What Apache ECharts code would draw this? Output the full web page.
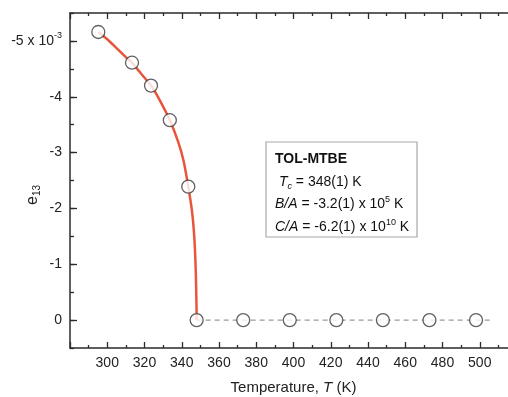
<!DOCTYPE html>
<html>
<head>
<meta charset="utf-8">
<script src="https://cdn.jsdelivr.net/npm/echarts@6/dist/echarts.min.js"></script>
<style>
  html, body { margin: 0; padding: 0; background: #fff; overflow: hidden; }
  #main { width: 508px; height: 397px; }
</style>
</head>
<body>
<div id="main"></div>
<script>
// measured points (T in K, e13 in units of 1e-3)
const measT = [295.2, 313.3, 323.5, 333.6, 343.5, 348, 373, 398, 423, 448, 473, 498];
const measE = [-5.16, -4.61, -4.2, -3.58, -2.39, 0, 0, 0, 0, 0, 0, 0];

// fitted curve (red)
const fitT = [295.2, 300, 305, 310, 313.3, 318, 323.5, 328, 333.6, 338, 341, 343.5, 345.5, 346.8, 347.5, 347.9, 348];
const fitE = [-5.16, -5.03, -4.87, -4.71, -4.61, -4.42, -4.2, -3.95, -3.58, -3.2, -2.85, -2.39, -1.95, -1.45, -0.9, -0.3, 0];

// dashed zero line above Tc
const zeroT = [348, 507];
const zeroE = [0, 0];

const yMajor = [-5, -4, -3, -2, -1, 0];

const font = 'Liberation Sans, Arial, sans-serif';
const axisColor = '#2b2b2b';

const myChart = echarts.init(document.getElementById('main'));

const zip = (a, b) => a.map((v, i) => [v, b[i]]);

const xCommon = {
    type: 'value',
    min: 280,
    max: 520,
    interval: 20,
    axisLine: { show: true, onZero: false, lineStyle: { color: axisColor, width: 1.5 } },
    axisTick: { show: true, inside: true, length: 6, lineStyle: { color: axisColor, width: 1.3 } },
    minorTick: { show: true, splitNumber: 2, length: 3, lineStyle: { color: axisColor, width: 1.3 } },
    splitLine: { show: false }
};

const option = {
    animation: false,
    // plot area runs past the right edge of the window, as in the original
    grid: { left: 70, top: 13, width: 447, height: 335, outerBoundsMode: 'none', containLabel: false },
    xAxis: [
        Object.assign({}, xCommon, {
            position: 'bottom',
            name: 'Temperature, {i|T} (K)',
            nameLocation: 'middle',
            nameGap: 32,
            nameTextStyle: {
                fontFamily: font, fontSize: 15, color: '#222',
                rich: { i: { fontFamily: font, fontSize: 15, fontStyle: 'italic', color: '#222' } }
            },
            axisLabel: {
                fontFamily: font, fontSize: 14, color: '#222', margin: 8,
                formatter: v => (v < 300 || v > 500) ? '' : String(v)
            }
        }),
        Object.assign({}, xCommon, {
            position: 'top',
            axisLabel: { show: false }
        })
    ],
    yAxis: [
        {
            type: 'value',
            inverse: true,
            min: -5.5,
            max: 0.5,
            position: 'left',
            axisLine: { show: true, onZero: false, lineStyle: { color: axisColor, width: 1.5 } },
            axisTick: { show: true, inside: true, length: 7, customValues: yMajor, lineStyle: { color: axisColor, width: 1.3 } },
            axisLabel: {
                customValues: yMajor,
                fontFamily: font, fontSize: 14, color: '#222', margin: 8,
                formatter: v => v === -5 ? '{n|-5 x 10}{s|-3}' : String(v),
                rich: {
                    n: { fontFamily: font, fontSize: 14, color: '#222' },
                    s: { fontFamily: font, fontSize: 9, color: '#222', verticalAlign: 'top', padding: [0, 0, 10, 0] }
                }
            },
            splitLine: { show: false }
        },
        {
            type: 'value',
            inverse: true,
            min: -5.5,
            max: 0.5,
            interval: 0.5,
            position: 'left',
            axisLine: { show: false },
            axisTick: { show: true, inside: true, length: 4, lineStyle: { color: axisColor, width: 1.3 } },
            axisLabel: { show: false },
            splitLine: { show: false }
        }
    ],
    graphic: [
        {
            type: 'text',
            x: 33, y: 195,
            rotation: Math.PI / 2,
            style: {
                text: '{e|e}{s|13}',
                align: 'center',
                verticalAlign: 'middle',
                rich: {
                    e: { fontFamily: font, fontSize: 16, fill: '#222' },
                    s: { fontFamily: font, fontSize: 10, fill: '#222', padding: [8, 0, 0, 0] }
                }
            }
        },
        {
            type: 'rect',
            shape: { x: 266, y: 142, width: 151, height: 95 },
            style: { fill: '#fff', stroke: '#a8a8a8', lineWidth: 1.2 },
            z: 10
        },
        {
            type: 'text',
            x: 275, y: 148,
            z: 11,
            style: {
                text: [
                    '{b|TOL-MTBE}',
                    '{r| }{i|T}{sb|c}{r| = 348(1) K}',
                    '{i|B/A}{r| = -3.2(1) x 10}{sp|5}{r| K}',
                    '{i|C/A}{r| = -6.2(1) x 10}{sp|10}{r| K}'
                ].join('\n'),
                lineHeight: 22.5,
                rich: {
                    b: { fontFamily: font, fontSize: 14, fontWeight: 'bold', fill: '#111', lineHeight: 22.5 },
                    r: { fontFamily: font, fontSize: 14, fill: '#111', lineHeight: 22.5 },
                    i: { fontFamily: font, fontSize: 14, fontStyle: 'italic', fill: '#111', lineHeight: 22.5 },
                    sb: { fontFamily: font, fontSize: 9, fontStyle: 'italic', fill: '#111', padding: [10, 0, 0, 0], lineHeight: 22.5 },
                    sp: { fontFamily: font, fontSize: 9, fill: '#111', padding: [0, 0, 9, 0], lineHeight: 22.5 }
                }
            }
        }
    ],
    series: [
        {
            name: 'fit',
            type: 'line',
            data: zip(fitT, fitE),
            showSymbol: false,
            smooth: 0.2,
            lineStyle: { color: '#e8553a', width: 2.5 },
            z: 2
        },
        {
            name: 'zero',
            type: 'line',
            data: zip(zeroT, zeroE),
            showSymbol: false,
            lineStyle: { color: '#9a9a9a', width: 1.3, type: [5, 4] },
            z: 1
        },
        {
            name: 'measured',
            type: 'scatter',
            data: zip(measT, measE),
            symbol: 'circle',
            symbolSize: 13,
            itemStyle: { color: '#fff', borderColor: '#3a3a3a', borderWidth: 1.3 },
            z: 5
        }
    ]
};

myChart.setOption(option);
</script>
</body>
</html>
